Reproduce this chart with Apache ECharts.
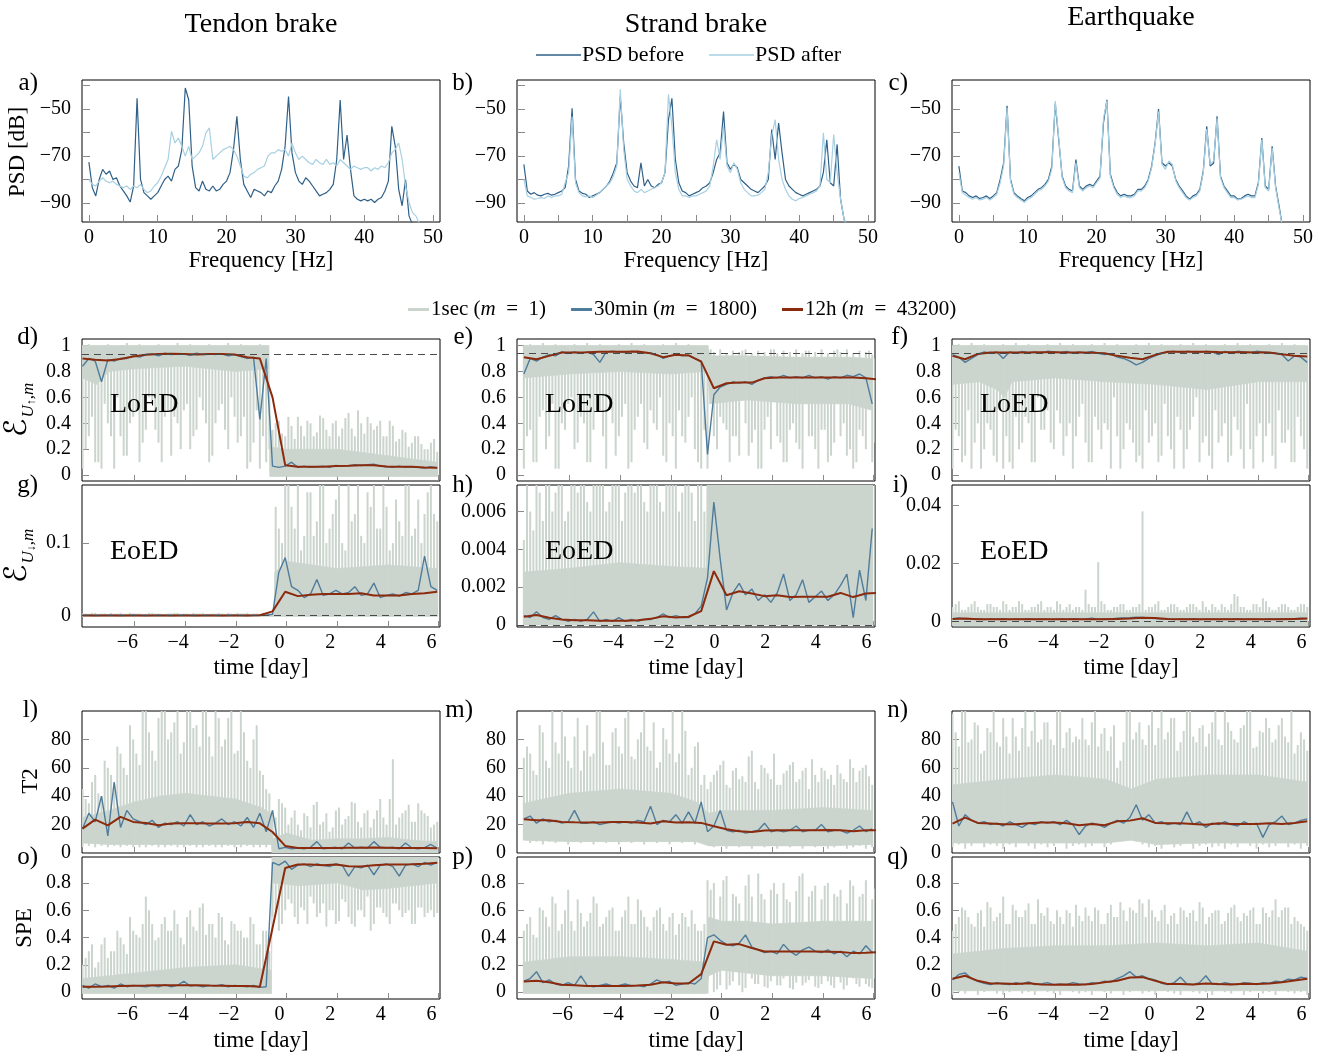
<!DOCTYPE html>
<html><head><meta charset="utf-8">
<script src="https://cdn.jsdelivr.net/npm/echarts@6/dist/echarts.min.js"></script>
<style>html,body{margin:0;padding:0;background:#fff}#c{width:1328px;height:1056px}</style>
</head><body><div id="c"></div>
<script>
// ---------------- PSD data (frequency grid 0..48 Hz, step 0.5) ----------------
const FREQ = []; for (let i = 0; i <= 96; i++) FREQ.push(i * 0.5);
const aBefore = [-72.5,-83.4,-86.9,-79.9,-75.6,-77.7,-76.3,-79.9,-79.2,-82.7,
-84.8,-86.9,-89.5,-82.7,-45.4,-79.9,-85.5,-86.9,-88.3,-86.9,
-85.5,-82.7,-79.9,-78.5,-80.6,-75.6,-74.2,-67.2,-41,-46,
-74.2,-83.4,-84.8,-80.6,-84.1,-84.8,-82.7,-84.8,-84.1,-82,
-80.6,-77,-67.2,-53,-71.4,-82,-84.8,-87.6,-84.1,-84.8,
-85.5,-86.9,-84.8,-85.5,-82.7,-80.6,-75.6,-65.8,-44.6,-68.6,
-77,-80.6,-82,-79.2,-80.6,-82.7,-84.8,-86.9,-86.2,-85.5,
-84.1,-82,-71.4,-46.1,-71.4,-61,-75.6,-86.9,-88.3,-89,
-88.3,-89,-88.3,-89.7,-88.3,-87.6,-84.8,-80.6,-57.3,-65.8,
-84.1,-91.1,-80,-95.4,-99,-100,-100];
const aAfter = [-79.9,-82,-82.7,-80.6,-79.2,-80.6,-81.3,-80.6,-82,-82.7,
-83.4,-82.7,-84.1,-82.7,-83.4,-82,-84.1,-85.5,-84.8,-82.7,
-81.3,-78.5,-74.9,-71.4,-59.4,-64.4,-62.3,-65.8,-70,-65.8,
-71.4,-70,-68.6,-65.8,-60.1,-58,-71.4,-70,-68.6,-67.2,
-66.5,-65.8,-67.2,-70,-74.2,-78.5,-79.2,-77.7,-77,-75.6,
-74.9,-74.2,-70,-68.6,-68.6,-67.2,-67.9,-67.2,-70,-64.4,
-68.6,-71.4,-70,-71.4,-72.8,-73.5,-71.4,-72.8,-73.5,-71.4,
-73.5,-72.8,-74.2,-71.4,-72.8,-74.2,-75.6,-74.2,-74.9,-75.6,
-74.9,-74.9,-76.3,-74.9,-75.6,-74.2,-74.9,-72.8,-68.6,-67.2,
-64.4,-71.4,-82.7,-89.7,-94,-95.4,-98.5];
const bBefore = [-73.5,-84.8,-86.2,-85.5,-86.6,-86.9,-86.2,-85.8,-86.6,-86.2,
-85.5,-84.8,-83.4,-74.2,-49.6,-79.9,-84.8,-85.8,-86.2,-87.6,
-86.9,-86.2,-85.5,-84.1,-82.7,-80.6,-77,-72.8,-44.6,-64.4,
-77,-80.6,-82.7,-83.4,-72.8,-82.7,-79.9,-82.7,-83.4,-82,
-81.3,-77,-54.5,-45.4,-71.4,-81.3,-84.8,-85.5,-86.9,-86.2,
-85.5,-84.8,-83.4,-82.7,-81.3,-77,-71.4,-68.6,-51,-72.8,
-75.6,-73.5,-74.9,-79.9,-81.3,-82.7,-84.1,-84.8,-85.5,-84.1,
-82.7,-79.9,-58.7,-71.4,-55.9,-68.6,-79.9,-82.7,-84.1,-85.5,
-86.2,-86.9,-86.2,-85.5,-84.8,-84.1,-82.7,-77,-63,-81.3,
-82.7,-65,-88.3,-96.8,-100,-100,-100];
const bAfter = [-79.9,-86.9,-87.6,-88.3,-88,-87.6,-88,-86.9,-87.6,-86.9,
-86.9,-86.2,-81.3,-77,-53.1,-81.3,-85.5,-86.9,-87.2,-86.9,
-87.6,-86.6,-85.5,-84.1,-82.7,-81.3,-78.5,-74.2,-41.5,-67.2,
-79.9,-82.7,-84.8,-85.5,-84.1,-85.5,-84.8,-84.1,-83.4,-82.7,
-81.3,-77,-43.7,-57.3,-77,-84.1,-86.9,-86.9,-87.6,-86.9,
-86.9,-86.2,-85.5,-84.8,-82.7,-74.2,-63,-71.4,-57.3,-74.2,
-77,-72.8,-75.6,-81.3,-84.1,-85.5,-86.9,-86.9,-86.6,-85.5,
-84.1,-77,-61.5,-54.5,-71.4,-79.9,-84.1,-86.9,-88.3,-89,
-88,-87.6,-86.9,-86.2,-85.5,-84.8,-82.7,-60.1,-79.9,-81.3,
-60.8,-77,-88.3,-96.8,-100,-100,-100];
const cBefore = [-74.2,-84.8,-85.5,-86.9,-87.6,-86.9,-88,-87.6,-86.9,-88,
-86.9,-85.5,-79.9,-72.8,-48.6,-79.9,-85.5,-86.9,-88,-89,
-87.6,-86.9,-85.5,-84.1,-83.4,-82,-79.9,-74.2,-47.5,-63,
-78.5,-82.7,-84.1,-84.8,-71.4,-82.7,-84.1,-82.7,-82,-82.7,
-80.6,-78.5,-55.9,-46,-77.7,-82.7,-85.5,-86.9,-86.2,-86.9,
-86.9,-86.2,-84.1,-84.1,-82.7,-79.9,-74.2,-64.4,-50,-72.8,
-74.2,-72.8,-74.2,-79.9,-82.7,-84.8,-86.9,-88.3,-86.9,-86.2,
-84.1,-76.3,-57.3,-74.2,-73,-53,-78.5,-82.7,-84.8,-86.9,
-86.9,-88.3,-88,-86.9,-86.2,-86.9,-86.9,-81.3,-62.3,-82.7,
-84.1,-65.8,-82.7,-91,-100,-100,-100];
const cAfter = [-77,-85.5,-86.6,-87.6,-88.3,-87.6,-88.6,-88.3,-87.6,-88.6,
-87.6,-86.2,-81.3,-74.2,-49.5,-80.6,-86.2,-87.6,-88.6,-89.7,
-88.3,-87.6,-86.2,-84.8,-84.1,-82.7,-80.6,-75.6,-46.5,-62,
-79.2,-83.4,-84.8,-85.5,-72.8,-83.4,-84.8,-83.4,-82.7,-83.4,
-81.3,-79.2,-54,-46.5,-78.5,-83.4,-86.2,-87.6,-86.9,-87.6,
-87.6,-86.9,-84.8,-84.8,-83.4,-80.6,-74.9,-65,-51,-73.5,
-75.6,-72,-73.5,-80.6,-83.4,-85.5,-87.6,-88.6,-87.6,-86.9,
-84.8,-77,-58.5,-73.5,-72,-54,-79.2,-83.4,-85.5,-87.6,
-87.6,-88.6,-88.3,-87.6,-86.9,-87.6,-87.6,-82,-63,-83.4,
-84.8,-66.5,-83.4,-92,-100,-100,-100];

// ---------------- time series data ----------------
// 12h values every 0.5 day; 30min values and 1sec spike extents every 0.25 day from the column start;
// "Mid" = 1sec spike extremes half-way between those slots.
const COL_START = [-8.05, -7.8, -8.05];

// --- d) Tendon LoED
const dRed = [0.90,0.89,0.885,0.895,0.915,0.928,0.935,0.936,0.935,0.93,0.935,0.934,0.93,0.91,0.90,0.6,0.077,0.065,0.064,0.065,0.07,0.072,0.077,0.077,0.066,0.064,0.064,0.06,0.058];
const dBlue = [0.84,0.9,0.88,0.72,0.89,0.88,0.9,0.9,0.92,0.91,0.93,0.935,0.92,0.94,0.93,0.935,0.935,0.925,0.94,0.93,0.935,0.93,0.935,0.92,0.93,0.915,0.9,0.91,0.43,0.9,0.07,0.06,0.07,0.1,0.06,0.07,0.06,0.065,0.07,0.06,0.075,0.07,0.072,0.08,0.075,0.08,0.085,0.07,0.065,0.06,0.07,0.06,0.065,0.06,0.055,0.065,0.055];
const dLo = [0.05,0.3,0.1,0.05,0.4,0.05,0.3,0.15,0.45,0.1,0.35,0.55,0.25,0.45,0.15,0.4,0.5,0.2,0.35,0.5,0.1,0.4,0.55,0.2,0.45,0.3,0.05,0.25,0.05,0.1,
-0.01,-0.01,-0.01,-0.01,-0.01,-0.01,-0.01,-0.01,-0.01,-0.01,-0.01,-0.01,-0.01,-0.01,-0.01,-0.01,-0.01,-0.01,-0.01,-0.01,-0.01,-0.01,-0.01,-0.01,-0.01,-0.01,-0.01];
const dHi = [1.0,1.01,1.0,1.0,1.01,1.0,1.0,1.02,1.0,1.01,1.0,1.0,1.01,1.0,1.0,1.02,1.0,1.01,1.0,1.0,1.01,1.0,1.0,1.02,1.0,1.01,1.0,1.0,1.01,1.0,
0.35,0.42,0.3,0.38,0.45,0.3,0.4,0.33,0.44,0.3,0.42,0.36,0.48,0.3,0.4,0.45,0.35,0.42,0.3,0.38,0.28,0.33,0.25,0.3,0.2,0.25,0.18];
const dMid = [0.2,0.45,0.1,0.55,0.3,0.6,0.15,0.4,0.5,0.25,0.6,0.35,0.1,0.5,0.45,0.2,0.55,0.3,0.6,0.4,0.15,0.5,0.35,0.6,0.25,0.45,0.1,0.5,0.3,0.2,
0.4,0.32,0.45,0.28,0.38,0.42,0.3,0.46,0.35,0.4,0.3,0.44,0.36,0.5,0.32,0.4,0.38,0.3,0.42,0.26,0.35,0.22,0.3,0.24,0.2,0.28];
const dCore = [[-8.05,0.75,1.0],[-7.5,0.7,1.0],[-7.0,0.8,1.0],[-6.0,0.82,1.0],[-4.0,0.84,1.0],[-2.0,0.8,1.0],[-0.7,0.82,1.0],[-0.65,-0.01,0.22],[0,-0.01,0.2],[2,-0.01,0.2],[4,-0.01,0.15],[5.95,-0.01,0.1]];

// --- g) Tendon EoED
const gRed = [0.0005,0.0005,0.0005,0.0005,0.0005,0.0005,0.0005,0.0005,0.0005,0.0005,0.0005,0.0005,0.0005,0.0005,0.0006,0.006,0.033,0.027,0.029,0.03,0.03,0.03,0.031,0.028,0.028,0.028,0.03,0.031,0.033];
const gBlue = [0.0005,0.0006,0.0004,0.0005,0.0006,0.0005,0.0004,0.0005,0.0006,0.0005,0.0004,0.0005,0.0006,0.0005,0.0004,0.0005,0.0006,0.0005,0.0004,0.0005,0.0006,0.0005,0.0004,0.0005,0.0006,0.0005,0.0004,0.0005,0.0006,0.0007,
0.002,0.06,0.08,0.04,0.035,0.025,0.03,0.05,0.028,0.03,0.035,0.03,0.032,0.04,0.028,0.03,0.045,0.025,0.028,0.03,0.027,0.032,0.03,0.035,0.082,0.04,0.035];
const gLo = [-0.001,-0.001,-0.001,-0.001,-0.001,-0.001,-0.001,-0.001,-0.001,-0.001,-0.001,-0.001,-0.001,-0.001,-0.001,-0.001,-0.001,-0.001,-0.001,-0.001,-0.001,-0.001,-0.001,-0.001,-0.001,-0.001,-0.001,-0.001,-0.001,-0.001,
-0.001,-0.001,-0.001,-0.001,-0.001,-0.001,-0.001,-0.001,-0.001,-0.001,-0.001,-0.001,-0.001,-0.001,-0.001,-0.001,-0.001,-0.001,-0.001,-0.001,-0.001,-0.001,-0.001,-0.001,-0.001,-0.001,-0.001];
const gHi = [0.003,0.002,0.004,0.003,0.002,0.003,0.004,0.002,0.003,0.003,0.002,0.004,0.003,0.002,0.003,0.004,0.003,0.002,0.003,0.004,0.002,0.003,0.003,0.004,0.002,0.003,0.004,0.003,0.002,0.003,
0.004,0.12,0.19,0.15,0.19,0.11,0.17,0.13,0.19,0.12,0.16,0.1,0.19,0.14,0.11,0.17,0.19,0.12,0.15,0.1,0.13,0.19,0.11,0.16,0.14,0.19,0.13];
const gMid = [0.003,0.004,0.002,0.003,0.004,0.003,0.002,0.004,0.003,0.002,0.004,0.003,0.002,0.003,0.004,0.002,0.003,0.004,0.003,0.002,0.003,0.004,0.002,0.003,0.004,0.003,0.002,0.003,0.004,0.003,
0.15,0.1,0.19,0.12,0.09,0.17,0.11,0.19,0.1,0.14,0.19,0.09,0.13,0.18,0.1,0.15,0.12,0.19,0.09,0.16,0.11,0.19,0.12,0.1,0.17,0.14];
const gCore = [[-8.05,-0.001,0.002],[-0.5,-0.001,0.002],[-0.45,-0.001,0.06],[0,-0.001,0.075],[2,-0.001,0.065],[4,-0.001,0.07],[5.95,-0.001,0.065]];

// --- l) Tendon T2
const lRed = [17.2,23.5,19.5,25.4,21.9,21.2,19.5,20.7,20.9,20.9,20.7,20.7,20.9,21.9,20.9,14.8,5.0,3.6,3.6,3.6,3.6,3.7,3.7,3.8,3.7,3.6,3.6,3.5,3.3];
const lBlue = [17,28,22,40,12,50,18,30,24,22,20,23,18,21,20,22,19,27,20,22,19,21,24,20,22,19,25,18,28,15,30,3,4,3,3.5,3,4,8,3,3.5,4,3,7,3.5,4,3.5,8,4,3.5,4,3,7,3.5,3,3.8,6,3.3];
const lLo = [4,5,4,5,4,5,4,5,4,4,4,5,4,4,5,4,4,5,4,4,5,4,4,5,4,4,5,4,4,4,0,0,0,0,0,0,0,0,0,0,0,0,0,0,0,0,0,0,0,0,0,0,0,0,0,0,0];
const lHi = [45,35,55,40,60,48,70,55,80,62,100,72,95,100,85,100,78,100,90,100,82,100,75,95,70,100,65,80,58,45,30,38,32,25,20,28,18,36,22,15,30,20,26,35,18,30,24,38,20,66,25,30,22,35,28,18,22];
const lMid = [38,50,42,65,55,75,60,90,70,100,85,65,100,80,92,70,100,88,75,100,68,95,80,100,72,85,60,90,55,42,
25,35,20,30,16,26,34,20,28,18,32,24,36,22,28,18,30,25,38,20,28,34,22,30,26,20];
const lCore = [[-8.05,7,25],[-7,6,30],[-6,6,36],[-5,6,40],[-4,6,42],[-3,6,40],[-2,6,38],[-1,6,32],[-0.6,6,28],[-0.55,0,10],[0,0,14],[1,0,9],[2,0,10],[3,0,10],[4,0,11],[5,0,9],[5.95,0,8]];

// --- o) Tendon SPE
const oRed = [0.04,0.04,0.042,0.045,0.047,0.048,0.05,0.05,0.05,0.05,0.048,0.047,0.046,0.045,0.04,0.47,0.91,0.935,0.935,0.93,0.935,0.922,0.92,0.93,0.935,0.935,0.937,0.94,0.947];
const oBlue = [0.05,0.03,0.06,0.04,0.05,0.03,0.06,0.04,0.05,0.045,0.04,0.05,0.04,0.055,0.04,0.05,0.08,0.045,0.05,0.04,0.05,0.045,0.055,0.04,0.05,0.045,0.04,0.05,0.035,0.04,
0.95,0.93,0.96,0.9,0.93,0.94,0.92,0.94,0.93,0.92,0.94,0.93,0.85,0.92,0.91,0.93,0.86,0.93,0.94,0.92,0.85,0.93,0.94,0.92,0.95,0.93,0.95];
const oLo = [-0.01,-0.01,-0.01,-0.01,-0.01,-0.01,-0.01,-0.01,-0.01,-0.01,-0.01,-0.01,-0.01,-0.01,-0.01,-0.01,-0.01,-0.01,-0.01,-0.01,-0.01,-0.01,-0.01,-0.01,-0.01,-0.01,-0.01,-0.01,-0.01,-0.01,
0.55,0.45,0.6,0.65,0.5,0.6,0.7,0.55,0.65,0.6,0.5,0.68,0.55,0.48,0.6,0.7,0.5,0.62,0.55,0.65,0.6,0.58,0.5,0.62,0.55,0.6,0.58];
const oHi = [0.2,0.3,0.18,0.35,0.25,0.3,0.4,0.28,0.45,0.4,0.7,0.5,0.4,0.55,0.45,0.5,0.35,0.6,0.45,0.65,0.5,0.4,0.55,0.35,0.5,0.45,0.4,0.5,0.35,0.45,
1.0,1.0,1.0,1.0,1.0,1.0,1.0,1.0,1.0,1.0,1.0,1.0,1.0,1.0,1.0,1.0,1.0,1.0,1.0,1.0,1.0,1.0,1.0,1.0,1.0,1.0,1.0];
const oMid = [0.25,0.35,0.22,0.4,0.3,0.45,0.35,0.55,0.42,0.5,0.6,0.38,0.5,0.45,0.6,0.4,0.55,0.48,0.62,0.42,0.5,0.58,0.38,0.52,0.45,0.4,0.55,0.35,0.45,0.3,
0.6,0.5,0.68,0.55,0.62,0.5,0.65,0.58,0.48,0.6,0.52,0.66,0.5,0.6,0.55,0.45,0.62,0.58,0.5,0.65,0.55,0.6,0.5,0.62,0.58,0.55];
const oCore = [[-8.05,-0.01,0.1],[-6,-0.01,0.14],[-4,-0.01,0.18],[-2,-0.01,0.2],[-0.6,-0.01,0.16],[-0.55,0.8,1.0],[0.5,0.78,1.0],[2,0.8,1.0],[3,0.75,1.0],[4,0.76,1.0],[5,0.78,1.0],[5.95,0.8,1.0]];

// --- e) Strand LoED
const eRed = [0.91,0.894,0.92,0.946,0.946,0.948,0.951,0.951,0.951,0.954,0.94,0.91,0.928,0.923,0.876,0.67,0.709,0.714,0.714,0.747,0.753,0.753,0.753,0.753,0.753,0.753,0.753,0.747,0.737];
const eBlue = [0.78,0.9,0.88,0.91,0.93,0.92,0.95,0.94,0.95,0.94,0.95,0.93,0.87,0.95,0.955,0.95,0.945,0.955,0.95,0.945,0.94,0.93,0.9,0.92,0.93,0.92,0.925,0.9,0.88,0.16,
0.62,0.68,0.7,0.72,0.71,0.72,0.7,0.73,0.75,0.76,0.75,0.77,0.75,0.76,0.75,0.77,0.75,0.76,0.74,0.76,0.75,0.77,0.76,0.78,0.75,0.55];
const eLo = [0.05,0.35,0.1,0.5,0.3,0.05,0.4,0.55,0.2,0.45,0.1,0.35,0.5,0.05,0.4,0.3,0.55,0.1,0.45,0.25,0.5,0.35,0.15,0.4,0.05,0.3,0.45,0.2,0.05,0.05,
0.3,0.45,0.35,0.3,0.15,0.4,0.25,0.05,0.35,0.2,0.3,0.1,0.35,0.25,0.05,0.3,0.2,0.35,0.1,0.25,0.3,0.15,0.05,0.35,0.2,0.1];
const eHi = [1.0,1.01,1.0,1.02,1.0,1.01,1.0,1.0,1.01,1.0,1.02,1.0,1.01,1.0,1.0,1.01,1.0,1.02,1.0,1.01,1.0,1.0,1.01,1.0,1.02,1.0,1.01,1.0,1.0,1.0,
0.95,0.97,0.94,0.96,0.95,0.97,0.94,0.96,0.95,0.97,0.94,0.96,0.95,0.97,0.94,0.96,0.95,0.97,0.94,0.96,0.95,0.97,0.94,0.96,0.95,0.93];
const eMid = [0.3,0.1,0.45,0.2,0.55,0.05,0.35,0.6,0.25,0.4,0.1,0.5,0.3,0.6,0.15,0.45,0.05,0.35,0.55,0.2,0.4,0.6,0.1,0.3,0.5,0.25,0.6,0.1,0.35,
0.97,0.2,0.4,0.1,0.3,0.96,0.15,0.35,0.05,0.45,0.97,0.25,0.1,0.4,0.2,0.96,0.3,0.05,0.35,0.15,0.97,0.4,0.2,0.1,0.3,0.96,0.25];
const eCore = [[-7.8,0.75,1.0],[-6,0.78,1.0],[-4,0.8,1.0],[-2,0.78,1.0],[-0.55,0.8,1.0],[-0.45,0.55,0.92],[1,0.58,0.92],[3,0.55,0.91],[5,0.55,0.91],[5.95,0.5,0.9]];

// --- h) Strand EoED
const hRed = [0.00044,0.00053,0.00039,0.0003,0.00026,0.00026,0.00023,0.00023,0.00023,0.00026,0.00033,0.00047,0.0004,0.00044,0.00074,0.00285,0.00158,0.00179,0.00167,0.00153,0.00158,0.00148,0.0015,0.0015,0.0015,0.0017,0.00148,0.00167,0.0017];
const hBlue = [0.0005,0.0004,0.0007,0.0004,0.0003,0.0005,0.0003,0.0002,0.0003,0.0002,0.0003,0.0007,0.0002,0.0003,0.0002,0.0004,0.0002,0.0003,0.0002,0.0003,0.0003,0.0004,0.0006,0.0004,0.0005,0.0004,0.0004,0.0006,0.001,0.0025,
0.0065,0.0035,0.0008,0.0017,0.0022,0.0016,0.0019,0.0013,0.0016,0.0012,0.0017,0.0027,0.0013,0.0016,0.0024,0.0012,0.0015,0.0018,0.0013,0.0016,0.0021,0.0027,0.0004,0.0029,0.0013,0.0051];
const hLo = [0,0,0,0,0,0,0,0,0,0,0,0,0,0,0,0,0,0,0,0,0,0,0,0,0,0,0,0,0,0,0,0,0,0,0,0,0,0,0,0,0,0,0,0,0,0,0,0,0,0,0,0,0,0,0,0];
const hHi = [0.0045,0.006,0.008,0.0055,0.008,0.007,0.008,0.006,0.008,0.008,0.0065,0.008,0.008,0.006,0.008,0.008,0.007,0.008,0.008,0.0065,0.008,0.008,0.006,0.008,0.008,0.007,0.008,0.0055,0.008,
0.008,0.008,0.008,0.008,0.008,0.008,0.008,0.008,0.008,0.008,0.008,0.008,0.008,0.008,0.008,0.008,0.008,0.008,0.008,0.008,0.008,0.008,0.008,0.008,0.008,0.008,0.008];
const hMid = [0.008,0.005,0.007,0.008,0.006,0.008,0.0055,0.008,0.007,0.008,0.006,0.008,0.008,0.0065,0.008,0.0055,0.008,0.007,0.008,0.006,0.008,0.0065,0.008,0.008,0.006,0.008,0.007,0.008,0.006,
0.008,0.008,0.008,0.008,0.008,0.008,0.008,0.008,0.008,0.008,0.008,0.008,0.008,0.008,0.008,0.008,0.008,0.008,0.008,0.008,0.008,0.008,0.008,0.008,0.008,0.008,0.008];
const hCore = [[-7.8,0,0.0028],[-6,0,0.003],[-4,0,0.0033],[-2,0,0.0031],[-0.6,0,0.003],[-0.55,0,0.008],[5.95,0,0.008]];

// --- m) Strand T2
const mRed = [23.7,23,23,21.9,21.6,21.4,21.4,21.9,21.9,21.4,20.7,22.3,21.4,21.6,21.2,18.8,16.7,15.3,14.8,15.8,16,16,16,16,16.2,16,15.3,16,16];
const mBlue = [24,26,21,24,22,23,21,22,30,21,21,22,20,21,22,21,22,21,23,22,33,20,23,22,27,21,29,21,36,15,19,30,16,15,16,14,15,16,21,15,16,15,16,19,15,16,16,20,15,16,16,14,16,19,15,17];
const mLo = [9,7,8,6,8,7,9,6,8,7,8,6,9,7,8,6,8,7,9,6,8,7,8,6,9,7,8,6,8,6,4,5,3,5,4,6,3,5,4,5,3,5,4,6,3,5,4,5,3,4,5,3,4,5,3,4];
const mHi = [67,70,55,85,60,78,100,65,82,58,90,70,100,62,85,75,95,68,80,100,72,60,88,70,64,100,55,75,48,45,55,62,48,58,52,50,72,45,60,52,48,56,62,50,58,45,55,60,52,48,56,50,60,58,62,48];
const mMid = [75,58,90,65,100,70,82,60,95,72,68,100,78,62,88,70,100,66,85,75,92,64,80,100,70,86,60,78,55,
50,58,65,46,60,54,68,50,62,56,70,48,58,64,52,60,66,50,58,55,62,52,66,50,60,54];
const mCore = [[-7.8,9,35],[-6,8,42],[-4,8,45],[-2,8,42],[-1,8,36],[-0.5,5,28],[0,5,30],[2,5,30],[4,5,32],[5.95,6,30]];

// --- p) Strand SPE
const pRed = [0.078,0.083,0.073,0.054,0.051,0.046,0.046,0.046,0.046,0.048,0.054,0.073,0.064,0.064,0.132,0.372,0.347,0.352,0.323,0.298,0.298,0.298,0.298,0.298,0.296,0.294,0.286,0.288,0.294];
const pBlue = [0.08,0.1,0.15,0.07,0.09,0.06,0.05,0.07,0.05,0.12,0.05,0.04,0.05,0.06,0.045,0.05,0.06,0.045,0.05,0.04,0.06,0.09,0.07,0.08,0.05,0.06,0.07,0.06,0.1,0.4,
0.42,0.38,0.35,0.34,0.36,0.42,0.33,0.31,0.29,0.3,0.28,0.35,0.3,0.27,0.31,0.33,0.3,0.29,0.31,0.28,0.3,0.26,0.3,0.28,0.34,0.29];
const pLo = [-0.01,-0.01,-0.01,-0.01,-0.01,-0.01,-0.01,-0.01,-0.01,-0.01,-0.01,-0.01,-0.01,-0.01,-0.01,-0.01,-0.01,-0.01,-0.01,-0.01,-0.01,-0.01,-0.01,-0.01,-0.01,-0.01,-0.01,-0.01,-0.01,-0.01,
0.0,0.05,0.02,0.08,0.05,0.03,0.1,0.06,0.04,0.08,0.05,0.1,0.03,0.07,0.05,0.09,0.04,0.06,0.08,0.03,0.07,0.05,0.1,0.04,0.06,0.03];
const pHi = [0.45,0.55,0.4,0.6,0.48,0.65,0.5,0.75,0.45,0.58,0.52,0.7,0.48,0.55,0.62,0.45,0.6,0.5,0.68,0.55,0.45,0.6,0.5,0.55,0.42,0.58,0.48,0.5,0.45,0.82,
0.8,0.7,0.85,0.72,0.65,0.78,0.7,0.87,0.68,0.75,0.72,0.8,0.66,0.74,0.87,0.7,0.78,0.68,0.8,0.72,0.75,0.65,0.78,0.7,0.82,0.68];
const pMid = [0.5,0.42,0.62,0.55,0.7,0.45,0.6,0.52,0.68,0.48,0.58,0.65,0.5,0.6,0.45,0.55,0.7,0.5,0.6,0.48,0.55,0.62,0.45,0.58,0.5,0.55,0.6,0.45,0.5,
0.75,0.02,0.82,0.05,0.7,0.0,0.86,0.06,0.72,0.03,0.8,0.05,0.68,0.02,0.85,0.07,0.74,0.03,0.78,0.05,0.7,0.02,0.82,0.06,0.72,0.04,0.76];
const pCore = [[-7.8,-0.01,0.22],[-6,-0.01,0.26],[-4,-0.01,0.26],[-2,-0.01,0.24],[-0.6,-0.01,0.22],[-0.5,0.12,0.55],[0,0.16,0.52],[1,0.14,0.52],[2,0.12,0.5],[4,0.12,0.52],[5.95,0.1,0.52]];

// --- f) Earthquake LoED
const fRed = [0.92,0.894,0.935,0.946,0.946,0.946,0.946,0.948,0.948,0.946,0.946,0.944,0.94,0.92,0.905,0.894,0.928,0.951,0.951,0.951,0.951,0.949,0.948,0.948,0.946,0.946,0.933,0.92,0.915];
const fBlue = [0.93,0.91,0.87,0.9,0.93,0.95,0.94,0.95,0.9,0.95,0.94,0.955,0.945,0.95,0.94,0.955,0.95,0.945,0.955,0.94,0.95,0.945,0.955,0.94,0.93,0.935,0.91,0.9,0.88,0.85,
0.87,0.9,0.92,0.94,0.95,0.955,0.945,0.955,0.95,0.945,0.955,0.95,0.93,0.955,0.945,0.955,0.95,0.945,0.955,0.95,0.945,0.94,0.93,0.88,0.92,0.91,0.87];
const fLo = [0.05,0.3,0.15,0.05,0.4,0.2,0.35,0.1,0.05,0.1,0.45,0.25,0.4,0.1,0.35,0.5,0.2,0.4,0.3,0.05,0.45,0.25,0.1,0.35,0.4,0.05,0.3,0.2,0.35,0.1,
0.05,0.25,0.4,0.15,0.3,0.05,0.35,0.2,0.45,0.1,0.3,0.05,0.25,0.4,0.15,0.35,0.05,0.2,0.3,0.1,0.4,0.05,0.25,0.35,0.1,0.3,0.05];
const fHi = [1.0,1.01,1.0,1.02,1.0,1.01,1.0,1.0,1.01,1.0,1.02,1.0,1.01,1.0,1.0,1.01,1.0,1.02,1.0,1.01,1.0,1.0,1.01,1.0,1.02,1.0,1.01,1.0,1.0,1.01,
1.0,1.02,1.0,1.01,1.0,1.0,1.01,1.0,1.02,1.0,1.01,1.0,1.0,1.01,1.0,1.02,1.0,1.01,1.0,1.0,1.01,1.0,1.02,1.0,1.01,1.0,1.0];
const fMid = [0.35,0.1,0.5,0.25,0.05,0.4,0.15,0.55,0.3,0.05,0.2,0.45,0.1,0.6,0.35,0.25,0.5,0.15,0.4,0.3,0.55,0.1,0.45,0.2,0.35,0.6,0.05,0.4,0.25,0.15,
0.5,0.3,0.1,0.55,0.2,0.45,0.05,0.35,0.6,0.25,0.15,0.5,0.3,0.1,0.45,0.2,0.55,0.05,0.4,0.3,0.15,0.5,0.25,0.1,0.45,0.2];
const fCore = [[-8.05,0.7,1.0],[-7,0.72,1.0],[-6.3,0.66,1.0],[-6,0.6,1.0],[-5.7,0.72,1.0],[-4,0.75,1.0],[-2,0.72,1.0],[0,0.7,1.0],[2,0.66,1.0],[4,0.72,1.0],[5.95,0.72,1.0]];

// --- i) Earthquake EoED
const iRed = [0.0009,0.001,0.0008,0.0008,0.0008,0.0008,0.0008,0.0008,0.0008,0.0008,0.0008,0.0008,0.0008,0.0009,0.001,0.0013,0.0012,0.0009,0.0008,0.0008,0.0008,0.0008,0.0008,0.0008,0.0008,0.0008,0.0008,0.0009,0.001];
const iBlue = [0.001,0.0012,0.0009,0.0008,0.001,0.0007,0.0009,0.0008,0.001,0.0007,0.0009,0.0008,0.001,0.0007,0.0009,0.0008,0.0007,0.0009,0.0008,0.001,0.0008,0.0009,0.0011,0.0008,0.001,0.0009,0.0011,0.0012,0.0013,0.0015,
0.0014,0.0012,0.001,0.0008,0.0009,0.0007,0.0009,0.0008,0.001,0.0007,0.0008,0.0009,0.0007,0.0009,0.0008,0.001,0.0007,0.0009,0.0008,0.0007,0.0009,0.0008,0.001,0.0009,0.001,0.0011,0.001];
const iLo = [-0.0015,-0.0015,-0.0015,-0.0015,-0.0015,-0.0015,-0.0015,-0.0015,-0.0015,-0.0015,-0.0015,-0.0015,-0.0015,-0.0015,-0.0015,-0.0015,-0.0015,-0.0015,-0.0015,-0.0015,-0.0015,-0.0015,-0.0015,-0.0015,-0.0015,-0.0015,-0.0015,-0.0015,-0.0015,-0.0015,
-0.0015,-0.0015,-0.0015,-0.0015,-0.0015,-0.0015,-0.0015,-0.0015,-0.0015,-0.0015,-0.0015,-0.0015,-0.0015,-0.0015,-0.0015,-0.0015,-0.0015,-0.0015,-0.0015,-0.0015,-0.0015,-0.0015,-0.0015,-0.0015,-0.0015,-0.0015,-0.0015];
const iHi = [0.005,0.007,0.004,0.006,0.005,0.004,0.006,0.005,0.007,0.004,0.005,0.006,0.004,0.005,0.007,0.005,0.004,0.006,0.005,0.004,0.005,0.011,0.005,0.0205,0.006,0.004,0.005,0.006,0.004,0.005,
0.038,0.005,0.006,0.004,0.005,0.006,0.004,0.005,0.006,0.004,0.005,0.006,0.004,0.005,0.006,0.0087,0.005,0.004,0.006,0.008,0.005,0.004,0.006,0.005,0.004,0.006,0.005];
const iMid = [0.006,0.004,0.005,0.007,0.004,0.006,0.005,0.004,0.006,0.005,0.007,0.004,0.005,0.006,0.004,0.005,0.007,0.004,0.006,0.005,0.004,0.006,0.005,0.007,0.004,0.005,0.006,0.004,0.005,0.006,
0.004,0.005,0.007,0.004,0.006,0.005,0.004,0.006,0.005,0.007,0.004,0.005,0.006,0.004,0.0095,0.005,0.004,0.006,0.005,0.007,0.004,0.005,0.006,0.004,0.005,0.006];
const iCore = [[-8.05,-0.0015,0.003],[5.95,-0.0015,0.003]];

// --- n) Earthquake T2
const nRed = [20.7,24.9,21.2,20.7,20.2,20.2,20.9,21.4,21.4,20.9,19.5,20.4,19.5,22.3,22.8,24.5,21.2,20.9,20.9,20.4,19.9,20.9,20.4,20.4,20.4,20.9,20.4,21.2,22.3];
const nBlue = [36,19,27,23,21,22,20,21,19,22,20,18,21,20,22,21,22,20,23,20,13,19,21,20,18,21,23,21,25,34,23,27,21,22,20,21,20,29,20,22,18,21,20,22,20,19,22,20,21,11,20,22,26,20,21,23,24];
const nLo = [4,6,3,5,7,4,6,5,3,6,4,7,5,3,6,4,5,7,3,5,6,4,5,7,4,6,8,9,10,8,6,4,5,3,6,4,5,7,3,5,6,4,5,3,6,4,7,5,3,6,4,5,7,4,6,3,5];
const nHi = [98,75,100,80,90,72,85,78,95,70,82,88,75,100,80,92,76,100,85,78,80,80,92,75,88,82,60,78,100,85,80,90,76,100,85,95,78,100,82,88,75,92,80,100,86,78,90,100,75,85,88,80,95,78,70,85,72];
const nMid = [85,100,78,92,70,88,100,75,82,95,72,100,86,78,92,80,100,74,88,82,95,76,100,84,72,90,65,100,80,92,
76,100,88,80,95,72,86,100,78,90,84,100,76,92,80,88,100,74,86,95,78,90,82,100,76,80];
const nCore = [[-8.05,7,48],[-6,7,52],[-4,7,55],[-2,7,52],[-1,9,45],[0,6,52],[2,7,55],[4,7,55],[5.95,7,50]];

// --- q) Earthquake SPE
const qRed = [0.098,0.12,0.083,0.064,0.064,0.059,0.066,0.056,0.054,0.056,0.054,0.059,0.073,0.083,0.108,0.11,0.083,0.059,0.059,0.056,0.064,0.059,0.056,0.061,0.059,0.064,0.073,0.086,0.098];
const qBlue = [0.09,0.13,0.14,0.1,0.08,0.065,0.055,0.07,0.06,0.055,0.07,0.06,0.075,0.055,0.06,0.07,0.055,0.06,0.055,0.07,0.06,0.055,0.07,0.065,0.08,0.075,0.1,0.12,0.15,0.11,0.12,0.1,0.09,0.065,0.055,0.07,0.11,0.06,0.055,0.07,0.12,0.06,0.055,0.07,0.06,0.055,0.07,0.065,0.055,0.07,0.065,0.08,0.075,0.095,0.09,0.11,0.1];
const qLo = [-0.02,0.0,-0.01,0.01,-0.02,0.0,0.01,-0.01,-0.02,0.0,0.01,-0.01,0.0,-0.02,0.01,0.0,-0.01,-0.02,0.01,0.0,-0.01,0.0,-0.02,0.01,0.0,-0.01,0.01,-0.02,0.0,0.01,-0.01,0.0,-0.02,0.01,0.0,-0.01,-0.02,0.01,0.0,-0.01,0.0,-0.02,0.01,0.0,-0.01,0.01,-0.02,0.0,0.01,-0.01,0.0,-0.02,0.01,0.0,-0.01,0.0,-0.02];
const qHi = [0.45,0.55,0.6,0.5,0.58,0.48,0.62,0.55,0.7,0.5,0.6,0.55,0.65,0.5,0.58,0.62,0.5,0.55,0.6,0.48,0.56,0.62,0.52,0.6,0.5,0.64,0.55,0.6,0.62,0.58,0.65,0.68,0.55,0.6,0.5,0.58,0.62,0.55,0.6,0.66,0.5,0.58,0.6,0.52,0.62,0.55,0.58,0.6,0.5,0.62,0.55,0.68,0.6,0.62,0.55,0.5,0.45];
const qMid = [0.5,0.62,0.55,0.48,0.6,0.66,0.52,0.58,0.5,0.64,0.55,0.6,0.5,0.68,0.56,0.52,0.6,0.5,0.58,0.64,0.52,0.56,0.62,0.5,0.58,0.55,0.66,0.52,0.6,0.68,
0.55,0.6,0.52,0.64,0.56,0.5,0.6,0.58,0.52,0.62,0.55,0.6,0.5,0.58,0.64,0.52,0.56,0.62,0.5,0.58,0.6,0.55,0.62,0.5,0.52,0.48];
const qCore = [[-8.05,0.01,0.28],[-6,0.01,0.32],[-4,0.01,0.34],[-2,0.01,0.34],[0,0.01,0.36],[2,0.01,0.34],[4,0.01,0.36],[5.95,0.01,0.3]];

// tick values
const TIME_TICKS = [-6,-4,-2,0,2,4,6];
const PSD_XTICKS = [0,5,10,15,20,25,30,35,40,45,50];
const PSD_XLABELS = [0,10,20,30,40,50];
const PSD_YTICKS = [-90,-80,-70,-60,-50,-40];
const PSD_YLABELS = [-90,-70,-50];
const LOED_TICKS = [0,0.2,0.4,0.6,0.8,1];
const T2_TICKS = [0,20,40,60,80];
const SPE_TICKS = [0,0.2,0.4,0.6,0.8];

// ---------------- layout / style ----------------
const FONT = 'Liberation Serif';
const GREY = '#cbd5cd', BLUE = '#4f7c9b', RED = '#8b2a0c', DARK = '#2f6088', LIGHT = '#a7d0e2', TICK = '#8a8a8a';
const COLX = [82, 517, 952], W = 358, H = 142;
const ROWS = { psd: 80, d: 339, g: 485, l: 711, o: 857 };

const fmt = v => (v < 0 ? '\u2212' + (-v) : String(v));
const grids = [], xAxes = [], yAxes = [], series = [], graphics = [];

function addPanel(col, top, xCfg, yCfg) {
  const gi = grids.length;
  grids.push({ left: COLX[col], top: top, width: W, height: H, show: true, borderColor: '#000', borderWidth: 1,
    backgroundColor: 'rgba(0,0,0,0)', containLabel: false, outerBoundsMode: 'none' });
  xAxes.push(Object.assign({ gridIndex: gi, type: 'value', position: 'bottom', axisLine: { show: false, onZero: false }, splitLine: { show: false } }, xCfg));
  yAxes.push(Object.assign({ gridIndex: gi, type: 'value', position: 'left', axisLine: { show: false, onZero: false }, splitLine: { show: false } }, yCfg));
  return gi;
}
const tickStyle = (vals, len) => ({ show: true, inside: true, length: len, customValues: vals, lineStyle: { color: TICK, width: 1 } });
const labelStyle = (vals, show, extra) => Object.assign({ show: show, customValues: vals, formatter: fmt, fontFamily: FONT, fontSize: 20, color: '#000' }, extra || {});

// ---- PSD panels
[[aBefore, aAfter], [bBefore, bAfter], [cBefore, cAfter]].forEach((pair, col) => {
  const gi = addPanel(col, ROWS.psd,
    { min: -1, max: 51, axisTick: tickStyle(PSD_XTICKS, 7), axisLabel: labelStyle(PSD_XLABELS, true, { margin: 6 }) },
    { min: -98, max: -37.6, axisTick: tickStyle(PSD_YTICKS, 8), axisLabel: labelStyle(PSD_YLABELS, true, { margin: 11 }) });
  series.push({ type: 'line', name: 'PSD before', xAxisIndex: gi, yAxisIndex: gi, data: FREQ.map((f, i) => [f, pair[0][i]]),
    showSymbol: false, symbol: 'none', color: DARK, lineStyle: { color: DARK, width: 1.2 }, z: 3, clip: true });
  series.push({ type: 'line', name: 'PSD after', xAxisIndex: gi, yAxisIndex: gi, data: FREQ.map((f, i) => [f, pair[1][i]]),
    showSymbol: false, symbol: 'none', color: LIGHT, lineStyle: { color: LIGHT, width: 1.2 }, z: 4, clip: true });
});

// ---- time panels
const PANELS = [
  { col: 0, row: 'd', yr: [-0.045, 1.05], yt: LOED_TICKS, red: dRed, blue: dBlue, lo: dLo, hi: dHi, mid: dMid, core: dCore, dash: 0.928, xl: false },
  { col: 1, row: 'd', yr: [-0.045, 1.05], yt: LOED_TICKS, red: eRed, blue: eBlue, lo: eLo, hi: eHi, mid: eMid, core: eCore, dash: 0.936, xl: false },
  { col: 2, row: 'd', yr: [-0.045, 1.05], yt: LOED_TICKS, red: fRed, blue: fBlue, lo: fLo, hi: fHi, mid: fMid, core: fCore, dash: 0.935, xl: false },
  { col: 0, row: 'g', yr: [-0.0155, 0.18], yt: [0, 0.1], red: gRed, blue: gBlue, lo: gLo, hi: gHi, mid: gMid, core: gCore, dash: 0.0014, xl: true },
  { col: 1, row: 'g', yr: [-0.0001, 0.0074], yt: [0, 0.002, 0.004, 0.006], red: hRed, blue: hBlue, lo: hLo, hi: hHi, mid: hMid, core: hCore, dash: 0.0002, xl: true },
  { col: 2, row: 'g', yr: [-0.0019, 0.0471], yt: [0, 0.02, 0.04], red: iRed, blue: iBlue, lo: iLo, hi: iHi, mid: iMid, core: iCore, dash: 0.0007, xl: true },
  { col: 0, row: 'l', yr: [0, 100], yt: T2_TICKS, red: lRed, blue: lBlue, lo: lLo, hi: lHi, mid: lMid, core: lCore, xl: false },
  { col: 1, row: 'l', yr: [0, 100], yt: T2_TICKS, red: mRed, blue: mBlue, lo: mLo, hi: mHi, mid: mMid, core: mCore, xl: false },
  { col: 2, row: 'l', yr: [0, 100], yt: T2_TICKS, red: nRed, blue: nBlue, lo: nLo, hi: nHi, mid: nMid, core: nCore, xl: false },
  { col: 0, row: 'o', yr: [-0.05, 0.99], yt: SPE_TICKS, red: oRed, blue: oBlue, lo: oLo, hi: oHi, mid: oMid, core: oCore, xl: true },
  { col: 1, row: 'o', yr: [-0.05, 0.99], yt: SPE_TICKS, red: pRed, blue: pBlue, lo: pLo, hi: pHi, mid: pMid, core: pCore, xl: true },
  { col: 2, row: 'o', yr: [-0.05, 0.99], yt: SPE_TICKS, red: qRed, blue: qBlue, lo: qLo, hi: qHi, mid: qMid, core: qCore, xl: true }
];

function coreAt(core, t) {
  if (t <= core[0][0]) return [core[0][1], core[0][2]];
  for (let k = 0; k < core.length - 1; k++) {
    const a = core[k], b = core[k + 1];
    if (t <= b[0]) { const f = (t - a[0]) / (b[0] - a[0]); return [a[1] + f * (b[1] - a[1]), a[2] + f * (b[2] - a[2])]; }
  }
  const z = core[core.length - 1]; return [z[1], z[2]];
}
function bandRender(core) {
  return function (params, api) {
    const i = params.dataIndex;
    if (i >= core.length - 1) return null;
    const a = core[i], b = core[i + 1];
    const pts = [api.coord([a[0], a[1]]), api.coord([b[0], b[1]]), api.coord([b[0], b[2]]), api.coord([a[0], a[2]])];
    return { type: 'polygon', shape: { points: pts }, style: { fill: GREY, stroke: GREY, lineWidth: 0.6 } };
  };
}
function spikeRender(params, api) {
  const t = api.value(0);
  const p0 = api.coord([t, api.value(1)]), p1 = api.coord([t, api.value(2)]);
  return { type: 'rect', shape: { x: p1[0] - 1, y: p1[1], width: 2, height: p0[1] - p1[1] }, style: { fill: GREY } };
}

PANELS.forEach(p => {
  const t0 = COL_START[p.col];
  const gi = addPanel(p.col, ROWS[p.row],
    { min: -8.07, max: 6.06, axisTick: tickStyle(TIME_TICKS, 6), axisLabel: labelStyle(TIME_TICKS, p.xl, { margin: 6, padding: [0, 14, 0, 0] }) },
    { min: p.yr[0], max: p.yr[1], axisTick: tickStyle(p.yt, 7), axisLabel: labelStyle(p.yt, true, { margin: 11 }) });
  series.push({ type: 'custom', name: '1sec', xAxisIndex: gi, yAxisIndex: gi, data: p.core, renderItem: bandRender(p.core),
    dimensions: ['t', 'lo', 'hi'], encode: { x: 0, y: [1, 2] }, itemStyle: { color: GREY }, clip: true, silent: true, z: 1 });
  series.push({ type: 'custom', name: '1sec', xAxisIndex: gi, yAxisIndex: gi,
    data: p.lo.map((v, i) => [t0 + 0.25 * i, v, p.hi[i]]), renderItem: spikeRender,
    dimensions: ['t', 'lo', 'hi'], encode: { x: 0, y: [1, 2] }, itemStyle: { color: GREY }, clip: true, silent: true, z: 1 });
  // half-slot spikes: extend from the dense core out to the recorded extreme
  series.push({ type: 'custom', name: '1sec', xAxisIndex: gi, yAxisIndex: gi,
    data: p.mid.map((v, i) => { const t = t0 + 0.125 + 0.25 * i; const c = coreAt(p.core, t); return [t, Math.min(v, c[0]), Math.max(v, c[1])]; }),
    renderItem: spikeRender, dimensions: ['t', 'lo', 'hi'], encode: { x: 0, y: [1, 2] }, itemStyle: { color: GREY }, clip: true, silent: true, z: 1 });
  const blue = { type: 'line', name: '30min', xAxisIndex: gi, yAxisIndex: gi, data: p.blue.map((v, i) => [t0 + 0.25 * i, v]),
    showSymbol: false, symbol: 'none', color: BLUE, lineStyle: { color: BLUE, width: 1.4 }, z: 3, clip: true };
  if (p.dash !== undefined) {
    blue.markLine = { silent: true, symbol: 'none', label: { show: false }, animation: false,
      lineStyle: { type: [7, 5], color: '#4a4a4a', width: 1.1 }, data: [{ yAxis: p.dash }] };
  }
  series.push(blue);
  series.push({ type: 'line', name: '12h', xAxisIndex: gi, yAxisIndex: gi, data: p.red.map((v, i) => [t0 + 0.5 * i, v]),
    showSymbol: false, symbol: 'none', color: RED, lineStyle: { color: RED, width: 2 }, z: 4, clip: true });
});

// ---------------- texts ----------------
function txt(text, x, y, size, opts) {
  const o = opts || {};
  graphics.push({ type: 'text', x: x, y: y, rotation: o.rot || 0, silent: true, z: 100,
    style: { text: text, fontFamily: FONT, fontSize: size, fill: '#000', align: o.align || 'center', verticalAlign: 'middle',
      textAlign: o.align || 'center', textVerticalAlign: 'middle', rich: o.rich } });
}
const TITLES = ['Tendon brake', 'Strand brake', 'Earthquake'];
const TITLE_Y = [25, 25, 18];
TITLES.forEach((t, c) => txt(t, COLX[c] + W / 2, TITLE_Y[c], 28));

const LABELS = [['a)','b)','c)'],['d)','e)','f)'],['g)','h)','i)'],['l)','m)','n)'],['o)','p)','q)']];
const LABEL_Y = [83, 337, 485, 710, 857];
LABELS.forEach((row, r) => row.forEach((l, c) => txt(l, COLX[c] - 44, LABEL_Y[r], 25, { align: 'right' })));

[0, 1, 2].forEach(c => {
  txt('LoED', COLX[c] + 28, 405, 28, { align: 'left' });
  txt('EoED', COLX[c] + 28, 552, 28, { align: 'left' });
  txt('Frequency [Hz]', COLX[c] + W / 2, 261, 23);
  txt('time [day]', COLX[c] + W / 2, 668, 23);
  txt('time [day]', COLX[c] + W / 2, 1041, 23);
});
txt('PSD [dB]', 18, 152, 23, { rot: Math.PI / 2 });
txt('T2', 31, 781, 23, { rot: Math.PI / 2 });
txt('SPE', 25, 928, 23, { rot: Math.PI / 2 });
const epsRich = {
  e: { fontFamily: 'DejaVu Serif, DejaVu Sans, serif', fontSize: 31, verticalAlign: 'bottom', padding: [0, 1, 4, 0] },
  s: { fontFamily: FONT, fontStyle: 'italic', fontSize: 17, verticalAlign: 'bottom' },
  a: { fontFamily: FONT, fontSize: 12, verticalAlign: 'bottom' }
};
txt('{e|\u2130}{s|U}{a|\u2191}{s|,m}', 20, 410, 20, { rot: Math.PI / 2, rich: epsRich });
txt('{e|\u2130}{s|U}{a|\u2193}{s|,m}', 20, 556, 20, { rot: Math.PI / 2, rich: epsRich });

// ---------------- chart ----------------
const SP = '\u2002';
const LEG2 = { '1sec': '1sec ({i|m}' + SP + '=' + SP + '1)', '30min': '30min ({i|m}' + SP + '=' + SP + '1800)', '12h': '12h ({i|m}' + SP + '=' + SP + '43200)' };
const chart = echarts.init(document.getElementById('c'), null, { renderer: 'canvas' });
chart.setOption({
  animation: false,
  backgroundColor: '#fff',
  textStyle: { fontFamily: FONT },
  grid: grids, xAxis: xAxes, yAxis: yAxes, series: series,
  legend: [
    { data: ['PSD before', 'PSD after'], left: 536, top: 44, icon: 'rect', itemWidth: 45, itemHeight: 1.5, itemGap: 25,
      selectedMode: false, padding: 0, textStyle: { fontFamily: FONT, fontSize: 22, color: '#000', padding: [0, 0, 0, -4] } },
    { data: ['1sec', '30min', '12h'], left: 408, top: 299, icon: 'rect', itemWidth: 21, itemHeight: 3, itemGap: 25,
      selectedMode: false, padding: 0, formatter: n => LEG2[n],
      textStyle: { fontFamily: FONT, fontSize: 21, color: '#000', padding: [0, 0, 0, -3],
        rich: { i: { fontFamily: FONT, fontStyle: 'italic', fontSize: 21, color: '#000' } } } }
  ],
  graphic: { elements: graphics }
});
</script></body></html>
